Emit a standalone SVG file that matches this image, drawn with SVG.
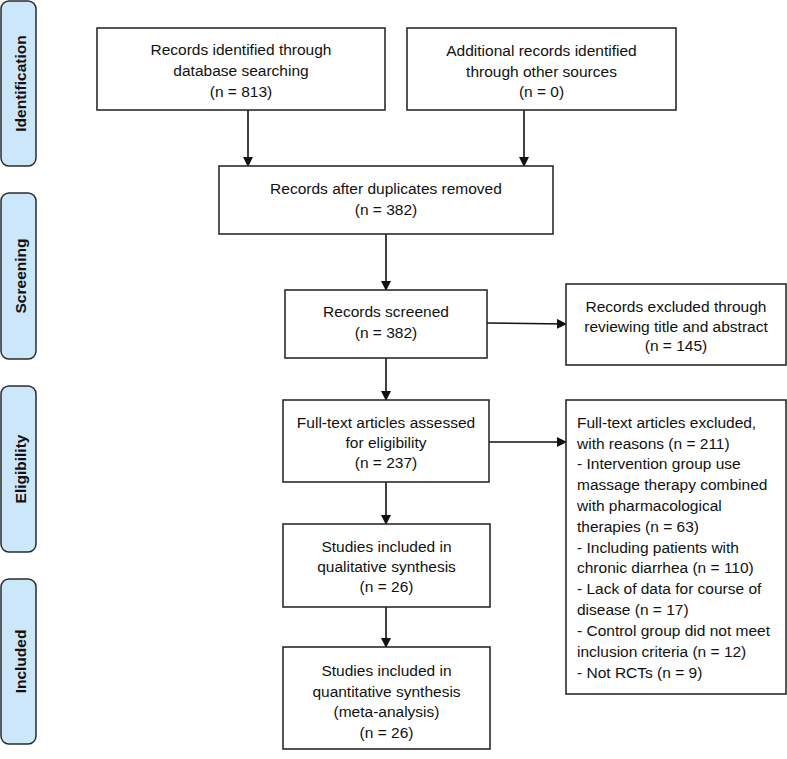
<svg xmlns="http://www.w3.org/2000/svg" width="787" height="759" viewBox="0 0 787 759">
<style>
.phase{fill:#cde7fa;stroke:#2b2b2b;stroke-width:1.5}
.phase-t{font-family:"Liberation Sans",Arial,sans-serif;font-size:15.5px;font-weight:bold;fill:#111;text-anchor:middle}
.box{fill:#fff;stroke:#2b2b2b;stroke-width:1.6}
.t{font-family:"Liberation Sans",Arial,sans-serif;font-size:15.5px;fill:#111;text-anchor:middle}
.tl{font-family:"Liberation Sans",Arial,sans-serif;font-size:15.5px;fill:#111}
.c{stroke:#111;stroke-width:1.6;fill:none;marker-end:url(#ah)}
</style>
<defs>
<marker id="ah" markerWidth="10" markerHeight="10" refX="9" refY="5" orient="auto" markerUnits="userSpaceOnUse">
<path d="M0,0 L10,5 L0,10 Z" fill="#111"/>
</marker>
</defs>
<rect width="787" height="759" fill="#fff"/>
<g id="phase-identification"><rect class="phase" x="1" y="1" width="35" height="165" rx="8"/><text class="phase-t" transform="translate(25.5,83.5) rotate(-90)">Identification</text></g>
<g id="phase-screening"><rect class="phase" x="1" y="193" width="35" height="166" rx="8"/><text class="phase-t" transform="translate(25.5,276) rotate(-90)">Screening</text></g>
<g id="phase-eligibility"><rect class="phase" x="1" y="386" width="35" height="166" rx="8"/><text class="phase-t" transform="translate(25.5,469) rotate(-90)">Eligibility</text></g>
<g id="phase-included"><rect class="phase" x="1" y="579" width="35" height="165" rx="8"/><text class="phase-t" transform="translate(25.5,661.5) rotate(-90)">Included</text></g>

<g id="connectors">
<line class="c" x1="248" y1="110" x2="248" y2="166"/>
<line class="c" x1="524" y1="110" x2="524" y2="166"/>
<line class="c" x1="386" y1="234" x2="386" y2="290"/>
<polyline class="c" points="487,323 566,324"/>
<line class="c" x1="386" y1="358" x2="386" y2="400"/>
<line class="c" x1="489" y1="442" x2="566" y2="442"/>
<line class="c" x1="386" y1="482" x2="386" y2="524"/>
<line class="c" x1="386" y1="607" x2="386" y2="647"/>
</g>

<g id="n1"><rect class="box" x="97" y="28" width="288" height="82"/>
<text class="t" x="241" y="55">Records identified through</text>
<text class="t" x="241" y="76">database searching</text>
<text class="t" x="241" y="97">(n = 813)</text></g>

<g id="n2"><rect class="box" x="407" y="28" width="269" height="82"/>
<text class="t" x="541.5" y="56">Additional records identified</text>
<text class="t" x="541.5" y="77">through other sources</text>
<text class="t" x="541.5" y="97">(n = 0)</text></g>

<g id="n3"><rect class="box" x="219" y="166" width="334" height="68"/>
<text class="t" x="386" y="194">Records after duplicates removed</text>
<text class="t" x="386" y="215">(n = 382)</text></g>

<g id="n4"><rect class="box" x="285" y="290" width="202" height="68"/>
<text class="t" x="386" y="317">Records screened</text>
<text class="t" x="386" y="338">(n = 382)</text></g>

<g id="n5"><rect class="box" x="566" y="284" width="220" height="81"/>
<text class="t" x="676" y="312">Records excluded through</text>
<text class="t" x="676" y="332">reviewing title and abstract</text>
<text class="t" x="676" y="351">(n = 145)</text></g>

<g id="n6"><rect class="box" x="283" y="400" width="206" height="82"/>
<text class="t" x="386" y="428">Full-text articles assessed</text>
<text class="t" x="386" y="448">for eligibility</text>
<text class="t" x="386" y="468">(n = 237)</text></g>

<g id="n7"><rect class="box" x="566" y="400" width="220" height="294"/>
<text class="tl" x="577" y="428">Full-text articles excluded,</text>
<text class="tl" x="577" y="449">with reasons (n = 211)</text>
<text class="tl" x="577" y="469">- Intervention group use</text>
<text class="tl" x="577" y="490">massage therapy combined</text>
<text class="tl" x="577" y="511">with pharmacological</text>
<text class="tl" x="577" y="532">therapies (n = 63)</text>
<text class="tl" x="577" y="553">- Including patients with</text>
<text class="tl" x="577" y="573">chronic diarrhea (n = 110)</text>
<text class="tl" x="577" y="594">- Lack of data for course of</text>
<text class="tl" x="577" y="615">disease (n = 17)</text>
<text class="tl" x="577" y="636">- Control group did not meet</text>
<text class="tl" x="577" y="657">inclusion criteria (n = 12)</text>
<text class="tl" x="577" y="678">- Not RCTs (n = 9)</text></g>

<g id="n8"><rect class="box" x="283" y="524" width="207" height="83"/>
<text class="t" x="386.5" y="552">Studies included in</text>
<text class="t" x="386.5" y="572">qualitative synthesis</text>
<text class="t" x="386.5" y="592">(n = 26)</text></g>

<g id="n9"><rect class="box" x="283" y="647" width="207" height="102"/>
<text class="t" x="386.5" y="676">Studies included in</text>
<text class="t" x="386.5" y="697">quantitative synthesis</text>
<text class="t" x="386.5" y="717">(meta-analysis)</text>
<text class="t" x="386.5" y="738">(n = 26)</text></g>
</svg>
